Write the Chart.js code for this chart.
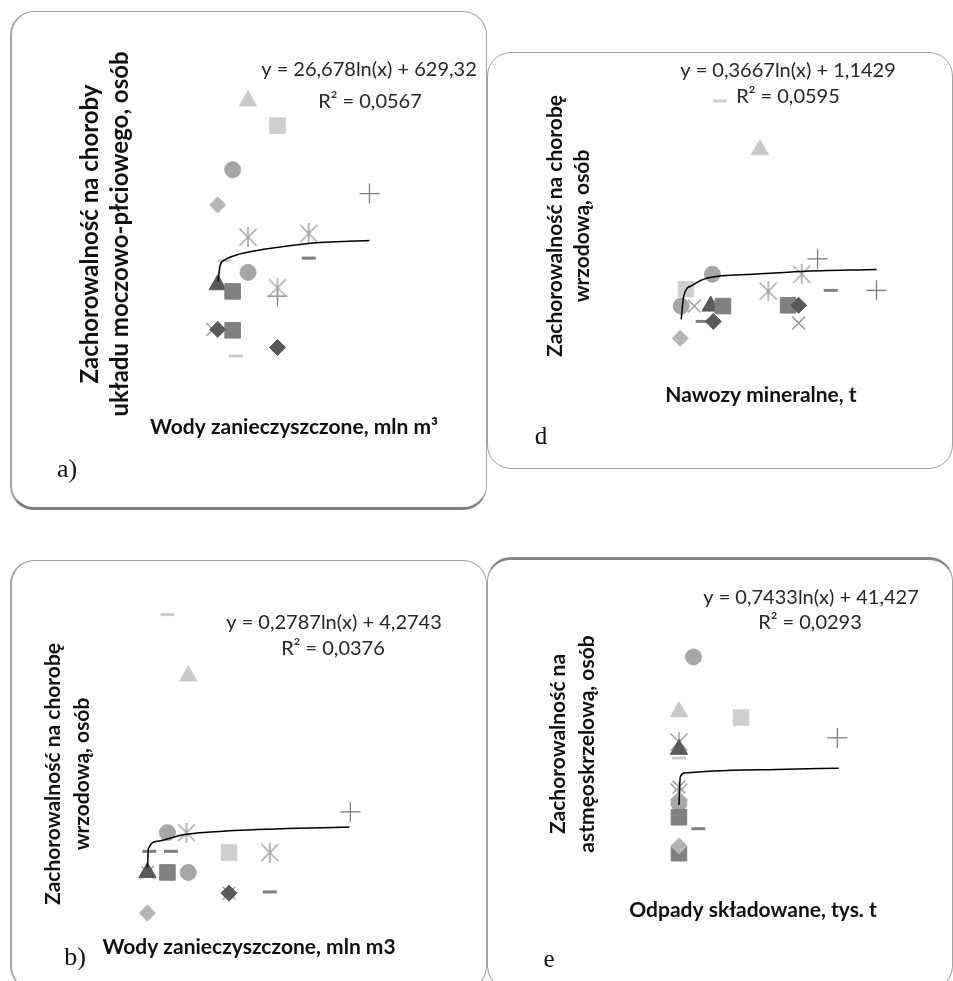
<!DOCTYPE html>
<html lang="pl">
<head>
<meta charset="utf-8">
<title>Zachorowalność a czynniki środowiskowe</title>
<script src="https://cdn.jsdelivr.net/npm/chart.js@4.4.1/dist/chart.umd.min.js"></script>
<style>
    html, body {
        margin: 0;
        padding: 0;
        background: #ffffff;
        width: 953px;
        height: 981px;
        overflow: hidden;
    }
    .box {
        position: absolute;
        box-sizing: border-box;
        border: 1.5px solid #a3a3a3;
        border-radius: 24px;
    }
    canvas {
        position: absolute;
    }
</style>
</head>
<body>
<div class="box" style="left:10px;top:11px;width:477px;height:499px;border-left-width:2px;border-bottom:3px solid #7d7d7d;"></div>
<div class="box" style="left:487px;top:52px;width:466px;height:417px;"></div>
<div class="box" style="left:10px;top:560px;width:477px;height:430px;border-left-width:2px;"></div>
<div class="box" style="left:487px;top:557px;width:466px;height:433px;border-top:3px solid #858585;"></div>

<canvas id="chartA" width="477" height="499" style="left:10px;top:11px"></canvas>
<canvas id="chartD" width="464" height="417" style="left:487px;top:52px"></canvas>
<canvas id="chartB" width="477" height="430" style="left:10px;top:560px"></canvas>
<canvas id="chartE" width="464" height="433" style="left:487px;top:557px"></canvas>

<script>
// values, in relative units (0-100) of each panel
// a) Wody zanieczyszczone vs choroby układu moczowo-płciowego
const aX = [49.9, 56.4, 46.5, 43.2, 76.7, 49.9, 63.3, 44.7, 63.3, 49.9, 43.2, 46.5, 56.4, 56.4, 42.1, 43.2, 46.5, 56.4, 47.2];
const aY = [83.6, 78.4, 69.1, 61.7, 64.1, 54.9, 55.7, 49.9, 50.5, 47.5, 44.9, 43.5, 44.3, 42.5, 35.5, 35.5, 35.3, 31.7, 29.9];
const aSeries = ["triangleLight", "squareLight", "circle", "diamondLight", "plus", "star", "star", "dashLight", "dashDark", "circle", "triangleDark", "squareGray", "star", "plus", "xMark", "diamondDark", "squareGray", "diamondDark", "dashLight"];
const aTrendX = [43.3, 43.7, 44.7, 48.2, 53.8, 63.2, 76.7];
const aTrendY = [45.6, 48.8, 50.1, 51.4, 52.4, 53.6, 54.2];

// d) Nawozy mineralne vs choroba wrzodowa
const dX = [59.3, 50.2, 72.4, 48.5, 68.8, 42.5, 61.2, 75.4, 85.8, 41.4, 44.4, 48.1, 50.9, 65.7, 68.1, 68.1, 46.3, 48.7, 41.2];
const dY = [78.2, 90.6, 50.4, 46.5, 46.5, 42.7, 42.2, 42.4, 42.4, 38.4, 38.4, 38.4, 38.4, 38.6, 38.6, 34.1, 34.5, 34.5, 30.2];
const dSeries = ["triangleLight", "dashLight", "plus", "circle", "star", "squareLight", "star", "dashDark", "plus", "circle", "xMark", "triangleDark", "squareGray", "squareGray", "diamondDark", "xMark", "dashDark", "diamondDark", "diamondLight"];
const dTrendX = [41.4, 42.0, 43.8, 47.6, 57.8, 68.5, 85.8];
const dTrendY = [35.0, 41.0, 43.6, 45.6, 46.5, 47.2, 47.7];

// b) Wody zanieczyszczone vs choroba wrzodowa
const bX = [32.1, 36.7, 72.5, 32.1, 36.3, 28.1, 32.9, 45.7, 54.7, 27.7, 27.7, 32.1, 36.7, 45.7, 45.7, 54.7, 27.7];
const bY = [89.5, 74.4, 40.9, 35.8, 35.8, 31.2, 31.2, 30.9, 30.9, 26.0, 26.0, 26.0, 26.0, 20.9, 20.9, 21.2, 16.0];
const bSeries = ["dashLight", "triangleLight", "plus", "circle", "star", "dashDark", "dashDark", "squareLight", "star", "xMark", "triangleDark", "squareGray", "circle", "xMark", "diamondDark", "dashDark", "diamondLight"];
const bTrendX = [27.7, 27.9, 30.0, 35.6, 46.8, 72.3];
const bTrendY = [27.2, 31.9, 33.7, 35.3, 36.3, 37.2];

// e) Odpady składowane vs astma oskrzelowa
const eX = [44.2, 40.9, 55.0, 76.9, 40.9, 40.9, 40.9, 40.9, 40.9, 40.9, 40.9, 45.3, 40.9, 40.9];
const eY = [78.5, 65.1, 63.7, 58.7, 57.7, 55.9, 53.8, 46.7, 45.5, 42.7, 39.3, 36.5, 32.3, 30.5];
const eSeries = ["circle", "triangleLight", "squareLight", "plus", "star", "triangleDark", "dashLight", "xMark", "star", "circle", "squareGray", "dashDark", "diamondLight", "squareGray"];
const eTrendX = [40.9, 41.2, 42.2, 48.7, 63.1, 77.2];
const eTrendY = [42.3, 49.2, 50.1, 50.6, 51.0, 51.3];

// excel-like asterisk: an X with a vertical bar
function asteriskMarker(color, size, lineWidth) {
    const c = document.createElement("canvas");
    c.width = size;
    c.height = size;
    const g = c.getContext("2d");
    const m = lineWidth;
    g.strokeStyle = color;
    g.lineWidth = lineWidth;
    g.beginPath();
    g.moveTo(m, m);
    g.lineTo(size - m, size - m);
    g.moveTo(size - m, m);
    g.lineTo(m, size - m);
    g.moveTo(size / 2, 0);
    g.lineTo(size / 2, size);
    g.stroke();
    return c;
}

const markerStyles = {
    diamondDark: { pointStyle: "rectRot", color: "#595959", radius: 8, filled: true },
    diamondLight: { pointStyle: "rectRot", color: "#b5b5b5", radius: 8, filled: true },
    squareGray: { pointStyle: "rect", color: "#808080", radius: 11, filled: true },
    squareLight: { pointStyle: "rect", color: "#cfcfcf", radius: 11, filled: true },
    triangleDark: { pointStyle: "triangle", color: "#5a5a5a", radius: 10, filled: true },
    triangleLight: { pointStyle: "triangle", color: "#c9c9c9", radius: 10, filled: true },
    circle: { pointStyle: "circle", color: "#a6a6a6", radius: 8, filled: true },
    xMark: { pointStyle: "crossRot", color: "#a0a0a0", radius: 9, width: 1.5 },
    star: { pointStyle: asteriskMarker("#a3a3a3", 20, 1.5), color: "#a3a3a3", radius: 10, width: 1.5 },
    plus: { pointStyle: "cross", color: "#7a7a7a", radius: 10, width: 1.2 },
    dashDark: { pointStyle: "line", color: "#7f7f7f", radius: 7, width: 3 },
    dashLight: { pointStyle: "line", color: "#cccccc", radius: 7, width: 3 },
};

function textPlugin(items) {
    return {
        id: "panelText",
        afterDatasetsDraw(chart) {
            const ctx = chart.ctx;
            items.forEach((item) => {
                ctx.save();
                ctx.fillStyle = item.color || "#111111";
                ctx.font = (item.bold ? "bold " : "") + item.size + "px " + (item.family || "Lato");
                ctx.textAlign = "center";
                ctx.textBaseline = "middle";
                ctx.translate(item.x, item.y);
                if (item.rotate) {
                    ctx.rotate(-Math.PI / 2);
                }
                ctx.fillText(item.text, 0, 0);
                ctx.restore();
            });
        },
    };
}

function createPanel(canvasId, xs, ys, series, trendX, trendY, texts) {
    const ctx = document.getElementById(canvasId);
    const datasets = [];

    Object.keys(markerStyles).forEach((key) => {
        const style = markerStyles[key];
        const data = [];
        series.forEach((s, i) => {
            if (s === key) data.push({ x: xs[i], y: ys[i] });
        });
        if (!data.length) return;
        datasets.push({
            label: key,
            data: data,
            pointStyle: style.pointStyle,
            pointRadius: style.radius,
            backgroundColor: style.color,
            borderColor: style.color,
            borderWidth: style.filled ? 1 : style.width,
            order: 1,
        });
    });

    datasets.push({
        label: "trend",
        data: trendX.map((x, i) => ({ x: x, y: trendY[i] })),
        showLine: true,
        pointRadius: 0,
        borderColor: "#000000",
        borderWidth: 1.5,
        cubicInterpolationMode: "monotone",
        fill: false,
        order: 0,
    });

    new Chart(ctx, {
        type: "scatter",
        data: { datasets: datasets },
        options: {
            responsive: false,
            animation: false,
            devicePixelRatio: 1,
            layout: { padding: 0 },
            scales: {
                x: { type: "linear", min: 0, max: 100, display: false },
                y: { type: "linear", min: 0, max: 100, display: false },
            },
            plugins: {
                legend: { display: false },
                tooltip: { enabled: false },
            },
        },
        plugins: [textPlugin(texts)],
    });
}

document.addEventListener("DOMContentLoaded", function () {
    createPanel("chartA", aX, aY, aSeries, aTrendX, aTrendY, [
        { text: "y = 26,678ln(x) + 629,32", x: 359, y: 59, size: 20, color: "#262626" },
        { text: "R² = 0,0567", x: 360, y: 91, size: 20, color: "#262626" },
        { text: "Zachorowalność na choroby", x: 80, y: 223, size: 24, bold: true, rotate: true },
        { text: "układu moczowo-płciowego, osób", x: 110, y: 223, size: 24, bold: true, rotate: true },
        { text: "Wody zanieczyszczone, mln m³", x: 284, y: 416, size: 21, bold: true },
        { text: "a)", x: 57, y: 459, size: 26, family: "Liberation Serif" },
    ]);

    createPanel("chartD", dX, dY, dSeries, dTrendX, dTrendY, [
        { text: "y = 0,3667ln(x) + 1,1429", x: 301, y: 19, size: 20, color: "#262626" },
        { text: "R² = 0,0595", x: 301, y: 45, size: 20, color: "#262626" },
        { text: "Zachorowalność na chorobę", x: 68, y: 174, size: 21, bold: true, rotate: true },
        { text: "wrzodową, osób", x: 95, y: 174, size: 21, bold: true, rotate: true },
        { text: "Nawozy mineralne, t", x: 274, y: 343, size: 21, bold: true },
        { text: "d", x: 54, y: 385, size: 25, family: "Liberation Serif" },
    ]);

    createPanel("chartB", bX, bY, bSeries, bTrendX, bTrendY, [
        { text: "y = 0,2787ln(x) + 4,2743", x: 324, y: 63, size: 20, color: "#262626" },
        { text: "R² = 0,0376", x: 323, y: 89, size: 20, color: "#262626" },
        { text: "Zachorowalność na chorobę", x: 43, y: 214, size: 21, bold: true, rotate: true },
        { text: "wrzodową, osób", x: 72, y: 214, size: 21, bold: true, rotate: true },
        { text: "Wody zanieczyszczone, mln m3", x: 239, y: 387, size: 21, bold: true },
        { text: "b)", x: 65, y: 398, size: 26, family: "Liberation Serif" },
    ]);

    createPanel("chartE", eX, eY, eSeries, eTrendX, eTrendY, [
        { text: "y = 0,7433ln(x) + 41,427", x: 324, y: 41, size: 20, color: "#262626" },
        { text: "R² = 0,0293", x: 323, y: 66, size: 20, color: "#262626" },
        { text: "Zachorowalność na", x: 71, y: 187, size: 21, bold: true, rotate: true },
        { text: "astmęoskrzelową, osób", x: 100, y: 187, size: 21, bold: true, rotate: true },
        { text: "Odpady składowane, tys. t", x: 266, y: 353, size: 21, bold: true },
        { text: "e", x: 62, y: 403, size: 25, family: "Liberation Serif" },
    ]);
});
</script>
</body>
</html>
